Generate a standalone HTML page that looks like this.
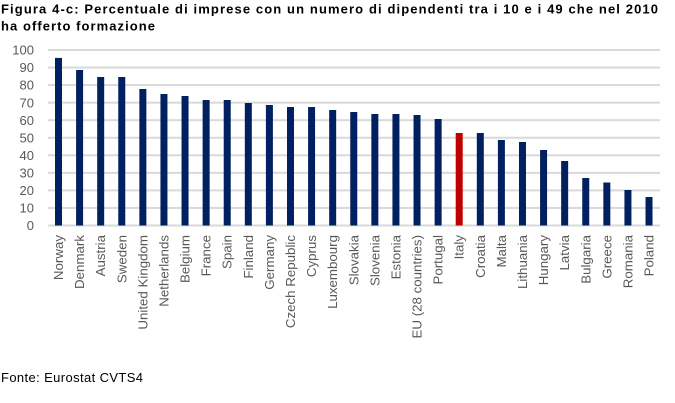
<!DOCTYPE html>
<html>
<head>
<meta charset="utf-8">
<style>
html,body{margin:0;padding:0;background:#fff;}
svg{display:block;}
text{font-family:"Liberation Sans",Arial,sans-serif;}
</style>
</head>
<body>
<svg width="675" height="403" viewBox="0 0 675 403" xmlns="http://www.w3.org/2000/svg">
<rect width="675" height="403" fill="#fff"/>
<text x="1" y="13.5" font-size="13" font-weight="bold" fill="#000" textLength="657" lengthAdjust="spacing">Figura 4-c: Percentuale di imprese con un numero di dipendenti tra i 10 e i 49 che nel 2010</text>
<text x="1" y="30.5" font-size="13" font-weight="bold" fill="#000" textLength="154" lengthAdjust="spacing">ha offerto formazione</text>

<g fill="#d9d9d9">
<rect x="48" y="49" width="612" height="2"/>
<rect x="48" y="66.55" width="612" height="2"/>
<rect x="48" y="84.1" width="612" height="2"/>
<rect x="48" y="101.65" width="612" height="2"/>
<rect x="48" y="119.2" width="612" height="2"/>
<rect x="48" y="136.75" width="612" height="2"/>
<rect x="48" y="154.3" width="612" height="2"/>
<rect x="48" y="171.85" width="612" height="2"/>
<rect x="48" y="189.4" width="612" height="2"/>
<rect x="48" y="206.95" width="612" height="2"/>
<rect x="48" y="224.5" width="612" height="2"/>
</g>

<g font-size="13" fill="#595959" text-anchor="end">
<text x="34" y="54.6">100</text>
<text x="34" y="72.15">90</text>
<text x="34" y="89.7">80</text>
<text x="34" y="107.25">70</text>
<text x="34" y="124.8">60</text>
<text x="34" y="142.35">50</text>
<text x="34" y="159.9">40</text>
<text x="34" y="177.45">30</text>
<text x="34" y="195">20</text>
<text x="34" y="212.55">10</text>
<text x="34" y="230.1">0</text>
</g>

<g fill="#002060">
<rect x="55" y="57.9" width="7" height="167.6"/>
<rect x="76.09" y="70" width="7" height="155.5"/>
<rect x="97.18" y="77" width="7" height="148.5"/>
<rect x="118.27" y="77" width="7" height="148.5"/>
<rect x="139.36" y="89" width="7" height="136.5"/>
<rect x="160.45" y="94" width="7" height="131.5"/>
<rect x="181.54" y="96" width="7" height="129.5"/>
<rect x="202.63" y="100" width="7" height="125.5"/>
<rect x="223.72" y="100" width="7" height="125.5"/>
<rect x="244.81" y="103" width="7" height="122.5"/>
<rect x="265.9" y="105" width="7" height="120.5"/>
<rect x="286.99" y="107" width="7" height="118.5"/>
<rect x="308.08" y="107" width="7" height="118.5"/>
<rect x="329.17" y="110" width="7" height="115.5"/>
<rect x="350.26" y="112" width="7" height="113.5"/>
<rect x="371.35" y="114" width="7" height="111.5"/>
<rect x="392.44" y="114" width="7" height="111.5"/>
<rect x="413.53" y="115" width="7" height="110.5"/>
<rect x="434.62" y="119" width="7" height="106.5"/>
<rect x="476.8" y="133" width="7" height="92.5"/>
<rect x="497.89" y="140" width="7" height="85.5"/>
<rect x="518.98" y="142" width="7" height="83.5"/>
<rect x="540.07" y="150" width="7" height="75.5"/>
<rect x="561.16" y="161" width="7" height="64.5"/>
<rect x="582.25" y="178" width="7" height="47.5"/>
<rect x="603.34" y="182.5" width="7" height="43"/>
<rect x="624.43" y="190" width="7" height="35.5"/>
<rect x="645.52" y="197" width="7" height="28.5"/>
</g>
<rect x="455.71" y="133" width="7" height="92.5" fill="#C00000"/>

<g font-size="13.3" fill="#595959" text-anchor="end">
<text transform="translate(63,235) rotate(-90)">Norway</text>
<text transform="translate(84.09,235) rotate(-90)">Denmark</text>
<text transform="translate(105.18,235) rotate(-90)">Austria</text>
<text transform="translate(126.27,235) rotate(-90)">Sweden</text>
<text transform="translate(147.36,235) rotate(-90)">United Kingdom</text>
<text transform="translate(168.45,235) rotate(-90)">Netherlands</text>
<text transform="translate(189.54,235) rotate(-90)">Belgium</text>
<text transform="translate(210.63,235) rotate(-90)">France</text>
<text transform="translate(231.72,235) rotate(-90)">Spain</text>
<text transform="translate(252.81,235) rotate(-90)">Finland</text>
<text transform="translate(273.9,235) rotate(-90)">Germany</text>
<text transform="translate(294.99,235) rotate(-90)">Czech Republic</text>
<text transform="translate(316.08,235) rotate(-90)">Cyprus</text>
<text transform="translate(337.17,235) rotate(-90)">Luxembourg</text>
<text transform="translate(358.26,235) rotate(-90)">Slovakia</text>
<text transform="translate(379.35,235) rotate(-90)">Slovenia</text>
<text transform="translate(400.44,235) rotate(-90)">Estonia</text>
<text transform="translate(421.53,235) rotate(-90)">EU (28 countries)</text>
<text transform="translate(442.62,235) rotate(-90)">Portugal</text>
<text transform="translate(463.71,235) rotate(-90)">Italy</text>
<text transform="translate(484.8,235) rotate(-90)">Croatia</text>
<text transform="translate(505.89,235) rotate(-90)">Malta</text>
<text transform="translate(526.98,235) rotate(-90)">Lithuania</text>
<text transform="translate(548.07,235) rotate(-90)">Hungary</text>
<text transform="translate(569.16,235) rotate(-90)">Latvia</text>
<text transform="translate(590.25,235) rotate(-90)">Bulgaria</text>
<text transform="translate(611.34,235) rotate(-90)">Greece</text>
<text transform="translate(632.43,235) rotate(-90)">Romania</text>
<text transform="translate(653.52,235) rotate(-90)">Poland</text>
</g>

<text x="1" y="382" font-size="13" fill="#000" textLength="142" lengthAdjust="spacing">Fonte: Eurostat CVTS4</text>
</svg>
</body>
</html>
